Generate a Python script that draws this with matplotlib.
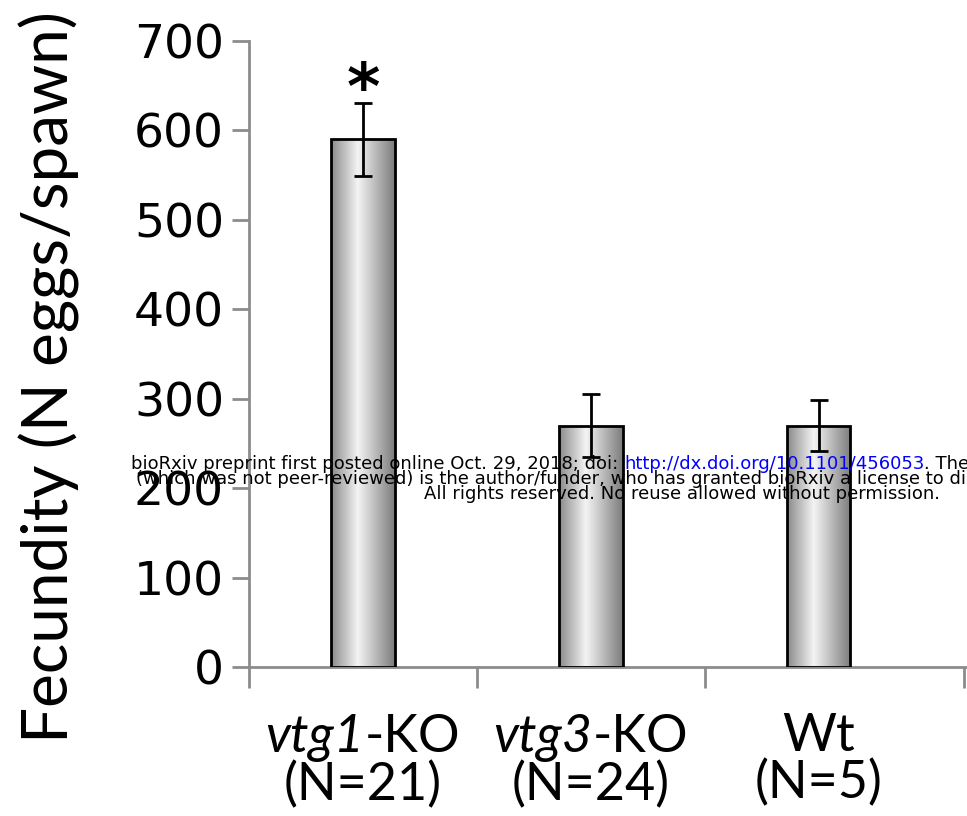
import matplotlib
matplotlib.use("Agg")
import matplotlib.pyplot as plt
import numpy as np
from matplotlib.colors import LinearSegmentedColormap
from matplotlib.offsetbox import TextArea, HPacker, VPacker, AnnotationBbox

# Fecundity per genotype (mean eggs per spawn, SEM)
genotypes = ["vtg1", "vtg3", "Wt"]
n_fish = [21, 24, 5]
mean_eggs = [590, 270, 270]
sem_eggs = [41, 35, 29]
significant = [True, False, False]

y_ticks = [0, 100, 200, 300, 400, 500, 600, 700]

LABEL_FONT = "Lato"
AXIS_GREY = "#8c8c8c"

fig = plt.figure(figsize=(9.67, 8.16), dpi=100)
ax = fig.add_axes([249 / 967, 149 / 816, 1 - 249 / 967 + 0.002, 626 / 816])

x = np.arange(len(genotypes))
bars = ax.bar(x, mean_eggs, width=0.28, facecolor="none", edgecolor="black",
              linewidth=2.0, zorder=3)

# cylinder-style shading inside each bar
shade = LinearSegmentedColormap.from_list(
    "cyl", [(0.0, "#8a8a8a"), (0.42, "#f4f4f4"), (1.0, "#7c7c7c")])
grad = np.linspace(0, 1, 256).reshape(1, -1)
for b in bars:
    x0, w, h = b.get_x(), b.get_width(), b.get_height()
    im = ax.imshow(grad, cmap=shade, aspect="auto", extent=[x0, x0 + w, 0, h],
                   zorder=2, interpolation="bilinear")
    im.set_clip_path(b)

ax.errorbar(x, mean_eggs, yerr=sem_eggs, fmt="none", ecolor="black",
            elinewidth=2.0, capsize=6.5, capthick=2.0, zorder=4)

for xi, m, e, sig in zip(x, mean_eggs, sem_eggs, significant):
    if sig:
        ax.annotate("*", xy=(xi, m + e), xytext=(0, -14), textcoords="offset points",
                    ha="center", va="bottom", fontsize=46, fontweight="bold",
                    fontfamily="DejaVu Sans", zorder=5)

ax.set_xlim(-0.5, 2.66)
ax.set_ylim(0, 700)

for side in ("top", "right"):
    ax.spines[side].set_visible(False)
for side in ("left", "bottom"):
    ax.spines[side].set_color(AXIS_GREY)
    ax.spines[side].set_linewidth(2.0)

ax.set_yticks(y_ticks)
ax.set_yticklabels([str(v) for v in y_ticks], fontsize=34, fontfamily="DejaVu Sans")
ax.tick_params(axis="y", length=12, width=2, color=AXIS_GREY, pad=6)

# category labels: italic gene name + roman suffix, sample size below
ax.set_xticks([])
ax.set_xticks([-0.5, 0.5, 1.5, 2.64], minor=True)
ax.tick_params(axis="x", which="minor", length=15, width=2, color=AXIS_GREY)
lab = dict(fontsize=37.5, fontfamily=LABEL_FONT, color="black")
for xi, g, n in zip(x, genotypes, n_fish):
    if g == "Wt":
        parts = [TextArea(g, textprops=lab)]
    else:
        parts = [TextArea(g, textprops=dict(fontstyle="italic", **lab)),
                 TextArea("-KO", textprops=lab)]
    line1 = HPacker(children=parts, pad=0, sep=0, align="baseline")
    line2 = TextArea(f"(N={n})", textprops=lab)
    box = VPacker(children=[line1, line2], pad=0, sep=-1, align="center")
    ab = AnnotationBbox(box, (xi, 0), xycoords=("data", "axes fraction"),
                        xybox=(0, -33), boxcoords="offset points",
                        box_alignment=(0.5, 1), frameon=False,
                        annotation_clip=False)
    ax.add_artist(ab)

fig.text(49 / 967, 1 - 377 / 816, "Fecundity (N eggs/spawn)", rotation=90,
         ha="center", va="center", fontsize=46, fontfamily=LABEL_FONT)

# preprint banner
wm = dict(fontsize=13, fontfamily="DejaVu Sans", zorder=10)
t1 = fig.text(131 / 967, 1 - 469 / 816,
              "bioRxiv preprint first posted online Oct. 29, 2018; doi: ",
              color="black", ha="left", va="baseline", **wm)
t2 = fig.add_artist(plt.Annotation("http://dx.doi.org/10.1101/456053", xy=(1, 0),
                                   xycoords=t1, ha="left", va="bottom",
                                   color="#0000ff", annotation_clip=False, **wm))
fig.add_artist(plt.Annotation(". The copyright holder for this preprint", xy=(1, 0),
                              xycoords=t2, ha="left", va="bottom", color="black",
                              annotation_clip=False, **wm))
fig.text(136 / 967, 1 - 484 / 816,
         "(which was not peer-reviewed) is the author/funder, who has granted bioRxiv "
         "a license to display the preprint in perpetuity.",
         color="black", ha="left", va="baseline", **wm)
fig.text(424 / 967, 1 - 499 / 816,
         "All rights reserved. No reuse allowed without permission.",
         color="black", ha="left", va="baseline", **wm)

fig.savefig("out.png", dpi=100)
